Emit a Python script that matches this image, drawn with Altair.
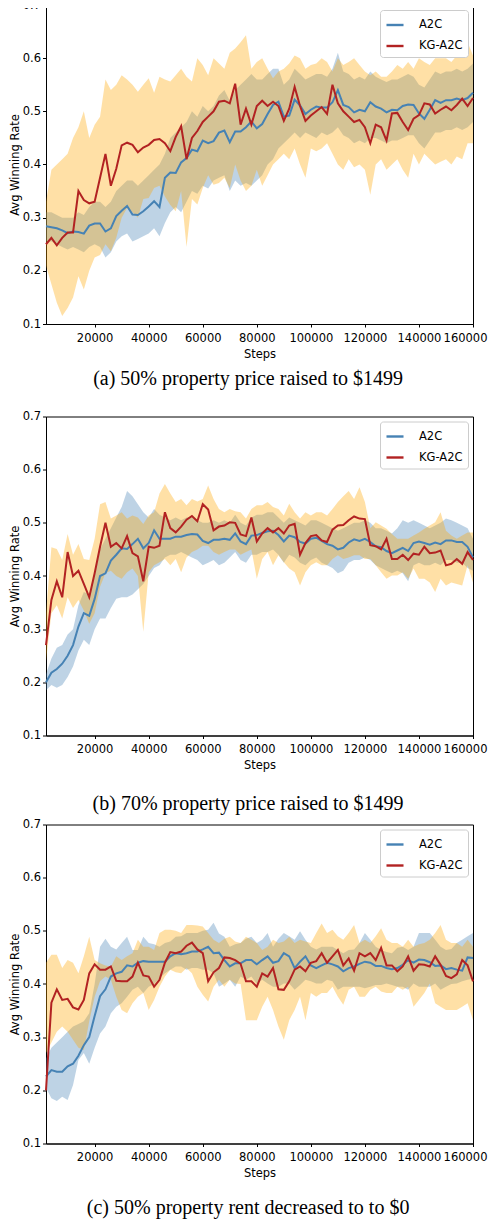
import altair as alt
import pandas as pd

steps = list(range(2000, 160001, 2000))
series_names = ["A2C", "KG-A2C"]
x_ticks = [20000, 40000, 60000, 80000, 100000, 120000, 140000, 160000]
y_ticks = [0.1, 0.2, 0.3, 0.4, 0.5, 0.6, 0.7]
captions = [
    "(a) 50% property price raised to $1499",
    "(b) 70% property price raised to $1499",
    "(c) 50% property rent decreased to to $0",
]

# ---------------- panel (a) ----------------
a_a2c = [0.284, 0.282, 0.280, 0.276, 0.271, 0.274, 0.273, 0.270, 0.285, 0.289,
         0.289, 0.274, 0.280, 0.303, 0.313, 0.322, 0.306, 0.305, 0.312, 0.321,
         0.331, 0.320, 0.375, 0.385, 0.384, 0.404, 0.412, 0.428, 0.425, 0.445,
         0.440, 0.444, 0.460, 0.464, 0.442, 0.462, 0.462, 0.470, 0.481, 0.468,
         0.476, 0.495, 0.512, 0.518, 0.490, 0.492, 0.522, 0.511, 0.495, 0.503,
         0.509, 0.507, 0.507, 0.517, 0.540, 0.512, 0.508, 0.498, 0.503, 0.500,
         0.517, 0.509, 0.505, 0.498, 0.503, 0.502, 0.510, 0.513, 0.512, 0.496,
         0.486, 0.503, 0.521, 0.516, 0.521, 0.521, 0.524, 0.521, 0.525, 0.535]
a_a2c_lo = [0.255, 0.255, 0.250, 0.245, 0.240, 0.245, 0.240, 0.235, 0.245, 0.250,
            0.245, 0.225, 0.235, 0.255, 0.265, 0.270, 0.255, 0.260, 0.265, 0.270,
            0.280, 0.265, 0.290, 0.310, 0.320, 0.310, 0.330, 0.350, 0.345, 0.360,
            0.355, 0.370, 0.375, 0.380, 0.350, 0.370, 0.360, 0.365, 0.360, 0.370,
            0.380, 0.400, 0.410, 0.430, 0.440, 0.450, 0.460, 0.450, 0.460, 0.455,
            0.450, 0.460, 0.455, 0.460, 0.470, 0.455, 0.450, 0.440, 0.445, 0.440,
            0.450, 0.450, 0.445, 0.440, 0.445, 0.445, 0.450, 0.455, 0.455, 0.440,
            0.430, 0.445, 0.460, 0.460, 0.465, 0.465, 0.470, 0.465, 0.470, 0.480]
a_a2c_hi = [0.310, 0.310, 0.305, 0.300, 0.300, 0.300, 0.310, 0.305, 0.320, 0.330,
            0.330, 0.320, 0.330, 0.350, 0.360, 0.370, 0.370, 0.360, 0.370, 0.380,
            0.390, 0.400, 0.420, 0.450, 0.460, 0.470, 0.480, 0.500, 0.490, 0.510,
            0.500, 0.510, 0.530, 0.540, 0.520, 0.540, 0.550, 0.560, 0.570, 0.560,
            0.560, 0.570, 0.580, 0.580, 0.550, 0.560, 0.580, 0.570, 0.560, 0.565,
            0.570, 0.570, 0.565, 0.580, 0.610, 0.575, 0.570, 0.560, 0.565, 0.560,
            0.575, 0.565, 0.560, 0.555, 0.560, 0.560, 0.565, 0.570, 0.565, 0.550,
            0.545, 0.560, 0.575, 0.570, 0.575, 0.575, 0.580, 0.575, 0.580, 0.590]
a_kg = [0.250, 0.262, 0.248, 0.262, 0.272, 0.272, 0.350, 0.333, 0.327, 0.330,
        0.375, 0.420, 0.360, 0.392, 0.436, 0.441, 0.437, 0.423, 0.432, 0.437,
        0.446, 0.448, 0.440, 0.425, 0.452, 0.472, 0.410, 0.450, 0.463, 0.480,
        0.490, 0.500, 0.518, 0.520, 0.515, 0.552, 0.475, 0.505, 0.475, 0.510,
        0.520, 0.510, 0.518, 0.510, 0.482, 0.505, 0.546, 0.510, 0.482, 0.492,
        0.500, 0.508, 0.495, 0.550, 0.515, 0.500, 0.490, 0.480, 0.484, 0.470,
        0.440, 0.475, 0.470, 0.445, 0.496, 0.497, 0.480, 0.465, 0.486, 0.493,
        0.515, 0.513, 0.496, 0.503, 0.509, 0.502, 0.512, 0.524, 0.510, 0.525]
a_kg_lo = [0.210, 0.175, 0.140, 0.115, 0.130, 0.150, 0.190, 0.165, 0.200, 0.225,
           0.230, 0.250, 0.237, 0.262, 0.300, 0.318, 0.310, 0.300, 0.335, 0.337,
           0.356, 0.360, 0.340, 0.324, 0.312, 0.350, 0.245, 0.335, 0.325, 0.356,
           0.380, 0.362, 0.365, 0.375, 0.356, 0.400, 0.370, 0.350, 0.360, 0.390,
           0.360, 0.380, 0.400, 0.410, 0.420, 0.410, 0.430, 0.400, 0.375, 0.430,
           0.425, 0.430, 0.440, 0.420, 0.400, 0.390, 0.410, 0.395, 0.400, 0.390,
           0.343, 0.400, 0.410, 0.390, 0.400, 0.410, 0.390, 0.375, 0.420, 0.400,
           0.420, 0.410, 0.400, 0.405, 0.410, 0.400, 0.415, 0.410, 0.440, 0.440]
a_kg_hi = [0.330, 0.390, 0.400, 0.410, 0.420, 0.450, 0.470, 0.500, 0.450, 0.475,
           0.490, 0.560, 0.540, 0.550, 0.568, 0.560, 0.550, 0.537, 0.550, 0.562,
           0.535, 0.565, 0.560, 0.556, 0.568, 0.580, 0.565, 0.556, 0.600, 0.587,
           0.568, 0.600, 0.590, 0.580, 0.610, 0.618, 0.630, 0.643, 0.580, 0.593,
           0.600, 0.580, 0.562, 0.575, 0.580, 0.590, 0.605, 0.600, 0.580, 0.587,
           0.590, 0.600, 0.593, 0.575, 0.600, 0.587, 0.593, 0.600, 0.587, 0.575,
           0.568, 0.575, 0.565, 0.565, 0.575, 0.587, 0.580, 0.593, 0.580, 0.600,
           0.593, 0.587, 0.600, 0.600, 0.600, 0.593, 0.605, 0.620, 0.630, 0.605]

# ---------------- panel (b) ----------------
b_a2c = [0.200, 0.218, 0.225, 0.235, 0.250, 0.270, 0.305, 0.330, 0.325, 0.357,
         0.400, 0.405, 0.429, 0.440, 0.452, 0.451, 0.460, 0.470, 0.452, 0.462,
         0.486, 0.470, 0.470, 0.470, 0.474, 0.474, 0.477, 0.479, 0.478, 0.466,
         0.462, 0.468, 0.468, 0.470, 0.468, 0.480, 0.465, 0.460, 0.476, 0.477,
         0.481, 0.484, 0.485, 0.477, 0.465, 0.476, 0.473, 0.464, 0.461, 0.470,
         0.472, 0.466, 0.460, 0.457, 0.450, 0.453, 0.463, 0.469, 0.466, 0.470,
         0.464, 0.456, 0.454, 0.447, 0.443, 0.448, 0.453, 0.447, 0.462, 0.465,
         0.462, 0.459, 0.463, 0.460, 0.467, 0.467, 0.464, 0.464, 0.455, 0.435]
b_a2c_lo = [0.185, 0.195, 0.190, 0.195, 0.210, 0.230, 0.260, 0.280, 0.270, 0.300,
            0.320, 0.320, 0.340, 0.357, 0.360, 0.360, 0.365, 0.375, 0.385, 0.400,
            0.415, 0.420, 0.435, 0.440, 0.440, 0.445, 0.440, 0.435, 0.430, 0.420,
            0.425, 0.430, 0.420, 0.425, 0.435, 0.445, 0.430, 0.425, 0.440, 0.440,
            0.445, 0.445, 0.450, 0.440, 0.425, 0.440, 0.435, 0.425, 0.420, 0.430,
            0.435, 0.425, 0.420, 0.415, 0.405, 0.410, 0.425, 0.430, 0.430, 0.435,
            0.430, 0.420, 0.415, 0.410, 0.405, 0.410, 0.405, 0.390, 0.420, 0.425,
            0.420, 0.420, 0.425, 0.420, 0.430, 0.430, 0.425, 0.425, 0.415, 0.410]
b_a2c_hi = [0.215, 0.245, 0.265, 0.270, 0.290, 0.300, 0.345, 0.370, 0.365, 0.400,
            0.450, 0.470, 0.490, 0.510, 0.530, 0.560, 0.550, 0.535, 0.520, 0.510,
            0.526, 0.515, 0.510, 0.505, 0.510, 0.505, 0.510, 0.510, 0.505, 0.500,
            0.500, 0.505, 0.500, 0.505, 0.500, 0.515, 0.500, 0.495, 0.510, 0.515,
            0.515, 0.520, 0.520, 0.510, 0.500, 0.510, 0.505, 0.500, 0.495, 0.505,
            0.505, 0.500, 0.495, 0.490, 0.485, 0.490, 0.495, 0.500, 0.500, 0.505,
            0.500, 0.490, 0.490, 0.485, 0.480, 0.490, 0.505, 0.500, 0.505, 0.500,
            0.495, 0.490, 0.495, 0.500, 0.508, 0.505, 0.500, 0.495, 0.490, 0.470]
b_kg = [0.270, 0.355, 0.390, 0.360, 0.445, 0.400, 0.410, 0.385, 0.360, 0.405,
        0.455, 0.500, 0.455, 0.462, 0.452, 0.475, 0.443, 0.437, 0.390, 0.455,
        0.453, 0.457, 0.520, 0.490, 0.482, 0.493, 0.506, 0.513, 0.503, 0.535,
        0.525, 0.486, 0.493, 0.495, 0.501, 0.500, 0.478, 0.475, 0.510, 0.465,
        0.480, 0.490, 0.482, 0.490, 0.480, 0.495, 0.498, 0.440, 0.462, 0.475,
        0.477, 0.467, 0.464, 0.487, 0.495, 0.496, 0.505, 0.512, 0.508, 0.507,
        0.458, 0.456, 0.450, 0.470, 0.432, 0.432, 0.440, 0.430, 0.442, 0.440,
        0.455, 0.443, 0.444, 0.448, 0.420, 0.423, 0.432, 0.423, 0.445, 0.430]
b_kg_lo = [0.240, 0.330, 0.345, 0.320, 0.360, 0.340, 0.355, 0.335, 0.310, 0.330,
           0.380, 0.405, 0.410, 0.400, 0.395, 0.407, 0.414, 0.400, 0.295, 0.407,
           0.420, 0.426, 0.432, 0.420, 0.432, 0.407, 0.435, 0.445, 0.450, 0.457,
           0.457, 0.445, 0.440, 0.445, 0.450, 0.450, 0.440, 0.445, 0.450, 0.395,
           0.432, 0.445, 0.420, 0.439, 0.426, 0.414, 0.407, 0.382, 0.407, 0.420,
           0.426, 0.420, 0.420, 0.432, 0.439, 0.432, 0.435, 0.439, 0.439, 0.432,
           0.432, 0.420, 0.407, 0.395, 0.401, 0.401, 0.407, 0.395, 0.414, 0.395,
           0.395, 0.388, 0.370, 0.395, 0.382, 0.388, 0.385, 0.382, 0.420, 0.388]
b_kg_hi = [0.330, 0.454, 0.451, 0.430, 0.479, 0.440, 0.460, 0.432, 0.430, 0.470,
           0.535, 0.539, 0.508, 0.514, 0.520, 0.508, 0.514, 0.510, 0.498, 0.514,
           0.520, 0.555, 0.573, 0.555, 0.539, 0.545, 0.533, 0.545, 0.540, 0.545,
           0.570, 0.545, 0.526, 0.520, 0.526, 0.522, 0.520, 0.508, 0.526, 0.533,
           0.533, 0.539, 0.530, 0.526, 0.514, 0.536, 0.520, 0.508, 0.520, 0.514,
           0.520, 0.520, 0.514, 0.526, 0.539, 0.550, 0.560, 0.545, 0.567, 0.539,
           0.490, 0.501, 0.495, 0.489, 0.479, 0.470, 0.470, 0.470, 0.476, 0.482,
           0.489, 0.495, 0.501, 0.520, 0.485, 0.476, 0.470, 0.476, 0.482, 0.482]

# ---------------- panel (c) ----------------
c_a2c = [0.226, 0.238, 0.235, 0.235, 0.245, 0.250, 0.265, 0.285, 0.300, 0.340,
         0.377, 0.390, 0.414, 0.420, 0.423, 0.435, 0.433, 0.440, 0.443, 0.442,
         0.442, 0.442, 0.442, 0.452, 0.458, 0.456, 0.458, 0.461, 0.461, 0.465,
         0.470, 0.458, 0.459, 0.445, 0.433, 0.439, 0.439, 0.445, 0.445, 0.437,
         0.445, 0.452, 0.440, 0.443, 0.458, 0.452, 0.430, 0.442, 0.452, 0.435,
         0.430, 0.435, 0.440, 0.437, 0.433, 0.424, 0.430, 0.433, 0.438, 0.442,
         0.440, 0.434, 0.434, 0.430, 0.428, 0.430, 0.436, 0.445, 0.440, 0.446,
         0.445, 0.441, 0.434, 0.435, 0.428, 0.430, 0.427, 0.425, 0.450, 0.449]
c_a2c_lo = [0.205, 0.185, 0.180, 0.188, 0.182, 0.210, 0.257, 0.270, 0.250, 0.280,
            0.307, 0.320, 0.345, 0.357, 0.364, 0.376, 0.389, 0.395, 0.383, 0.395,
            0.400, 0.411, 0.420, 0.427, 0.433, 0.433, 0.427, 0.430, 0.430, 0.427,
            0.427, 0.420, 0.395, 0.401, 0.408, 0.395, 0.414, 0.408, 0.414, 0.400,
            0.408, 0.401, 0.395, 0.395, 0.401, 0.401, 0.389, 0.398, 0.408, 0.405,
            0.401, 0.401, 0.408, 0.405, 0.389, 0.395, 0.395, 0.395, 0.395, 0.392,
            0.395, 0.398, 0.398, 0.401, 0.398, 0.395, 0.395, 0.389, 0.401, 0.395,
            0.395, 0.395, 0.401, 0.389, 0.395, 0.400, 0.401, 0.405, 0.408, 0.410]
c_a2c_hi = [0.260, 0.280, 0.290, 0.300, 0.310, 0.320, 0.325, 0.330, 0.345, 0.400,
            0.470, 0.485, 0.470, 0.465, 0.477, 0.489, 0.464, 0.464, 0.489, 0.477,
            0.475, 0.470, 0.477, 0.480, 0.489, 0.490, 0.496, 0.496, 0.496, 0.500,
            0.502, 0.515, 0.495, 0.489, 0.470, 0.475, 0.477, 0.485, 0.489, 0.477,
            0.483, 0.496, 0.470, 0.485, 0.496, 0.490, 0.483, 0.499, 0.483, 0.470,
            0.465, 0.470, 0.470, 0.470, 0.464, 0.458, 0.464, 0.465, 0.477, 0.496,
            0.483, 0.470, 0.464, 0.460, 0.458, 0.468, 0.470, 0.464, 0.470, 0.496,
            0.496, 0.496, 0.483, 0.470, 0.464, 0.466, 0.477, 0.483, 0.490, 0.496]
c_kg = [0.200, 0.365, 0.390, 0.370, 0.372, 0.356, 0.352, 0.370, 0.420, 0.437,
        0.427, 0.427, 0.433, 0.406, 0.405, 0.405, 0.414, 0.440, 0.416, 0.414,
        0.395, 0.408, 0.440, 0.460, 0.458, 0.461, 0.472, 0.478, 0.465, 0.458,
        0.405, 0.422, 0.430, 0.450, 0.449, 0.445, 0.438, 0.405, 0.405, 0.395,
        0.420, 0.414, 0.430, 0.390, 0.389, 0.405, 0.427, 0.433, 0.424, 0.440,
        0.443, 0.458, 0.440, 0.452, 0.464, 0.435, 0.448, 0.425, 0.458, 0.452,
        0.458, 0.445, 0.468, 0.435, 0.435, 0.424, 0.433, 0.452, 0.425, 0.437,
        0.436, 0.433, 0.452, 0.436, 0.415, 0.411, 0.418, 0.445, 0.435, 0.405]
c_kg_lo = [0.270, 0.290, 0.310, 0.320, 0.310, 0.295, 0.280, 0.276, 0.330, 0.376,
           0.405, 0.414, 0.408, 0.376, 0.351, 0.345, 0.364, 0.376, 0.383, 0.351,
           0.370, 0.395, 0.414, 0.427, 0.422, 0.420, 0.430, 0.420, 0.395, 0.380,
           0.367, 0.395, 0.408, 0.395, 0.408, 0.401, 0.400, 0.332, 0.332, 0.332,
           0.357, 0.376, 0.351, 0.320, 0.295, 0.332, 0.351, 0.376, 0.332, 0.383,
           0.376, 0.383, 0.383, 0.395, 0.376, 0.361, 0.389, 0.395, 0.376, 0.376,
           0.389, 0.395, 0.386, 0.383, 0.383, 0.395, 0.389, 0.395, 0.357, 0.370,
           0.383, 0.401, 0.364, 0.357, 0.351, 0.351, 0.351, 0.357, 0.364, 0.332]
c_kg_hi = [0.440, 0.455, 0.455, 0.430, 0.445, 0.440, 0.420, 0.452, 0.489, 0.445,
           0.439, 0.435, 0.433, 0.452, 0.445, 0.452, 0.458, 0.483, 0.470, 0.470,
           0.464, 0.496, 0.502, 0.502, 0.500, 0.496, 0.511, 0.511, 0.510, 0.508,
           0.496, 0.483, 0.477, 0.485, 0.489, 0.480, 0.477, 0.489, 0.483, 0.477,
           0.464, 0.470, 0.483, 0.477, 0.480, 0.489, 0.477, 0.483, 0.480, 0.477,
           0.496, 0.514, 0.496, 0.502, 0.490, 0.483, 0.496, 0.511, 0.477, 0.483,
           0.477, 0.490, 0.505, 0.483, 0.477, 0.477, 0.470, 0.483, 0.470, 0.475,
           0.477, 0.483, 0.496, 0.511, 0.483, 0.477, 0.477, 0.470, 0.483, 0.470]

BLUE = "#4682b4"
RED = "#b22222"
ORANGE = "#ffa500"
FONT = "DejaVu Sans"


def panel_frame(a2c, a2c_lo, a2c_hi, kg, kg_lo, kg_hi):
    rows = []
    for i, s in enumerate(steps):
        rows.append({"step": s, "series": "A2C", "band": "A2C band",
                     "mean": a2c[i], "lo": a2c_lo[i], "hi": a2c_hi[i]})
    for i, s in enumerate(steps):
        rows.append({"step": s, "series": "KG-A2C", "band": "KG-A2C band",
                     "mean": kg[i], "lo": kg_lo[i], "hi": kg_hi[i]})
    return pd.DataFrame(rows)


def make_panel(df, caption, cap_offset):
    xenc = alt.X(
        "step:Q",
        scale=alt.Scale(domain=[2000, 160000], nice=False, zero=False),
        axis=alt.Axis(values=x_ticks, format="d", title="Steps", grid=False,
                      labelOverlap=False, labelFlush=True, labelFlushOffset=14,
                      labelPadding=5, titlePadding=4.5, tickSize=3),
    )
    yaxis = alt.Axis(values=y_ticks, format=".1f", title="Avg Winning Rate", grid=False,
                     labelOverlap=False, labelPadding=2, titlePadding=2, tickSize=3.5)
    yscale = alt.Scale(domain=[0.1, 0.7], nice=False, zero=False)
    band = alt.Chart(df).mark_area(fillOpacity=0.35, strokeWidth=0).encode(
        x=xenc,
        y=alt.Y("lo:Q", scale=yscale, axis=yaxis),
        y2="hi:Q",
        fill=alt.Fill("band:N",
                      scale=alt.Scale(domain=["A2C band", "KG-A2C band"], range=[BLUE, ORANGE]),
                      legend=None),
    )
    line = alt.Chart(df).mark_line(strokeWidth=2).encode(
        x=xenc,
        y=alt.Y("mean:Q", scale=yscale, axis=yaxis),
        stroke=alt.Stroke(
            "series:N",
            scale=alt.Scale(domain=series_names, range=[BLUE, RED]),
            legend=alt.Legend(
                title=None, orient="top-right", offset=5, fillColor="white",
                strokeColor="#cccccc", cornerRadius=3, padding=5,
                symbolType="stroke", symbolStrokeWidth=2.4, symbolSize=290,
                labelFontSize=11.5, labelFont=FONT, labelColor="black",
                labelOffset=14, rowPadding=5,
            ),
        ),
    )
    return alt.layer(band, line).properties(
        width=427, height=319,
        title=alt.TitleParams(
            text=caption, orient="bottom", anchor="middle", frame="bounds",
            font="Liberation Serif", fontSize=20, fontWeight="normal",
            color="black", offset=cap_offset,
        ),
    )


pa = make_panel(panel_frame(a_a2c, a_a2c_lo, a_a2c_hi, a_kg, a_kg_lo, a_kg_hi), captions[0], 9.5)
pb = make_panel(panel_frame(b_a2c, b_a2c_lo, b_a2c_hi, b_kg, b_kg_lo, b_kg_hi), captions[1], 22.5)
pc = make_panel(panel_frame(c_a2c, c_a2c_lo, c_a2c_hi, c_kg, c_kg_lo, c_kg_hi), captions[2], 19)

top_two = (
    alt.vconcat(pa, pb, spacing=19.5)
    .resolve_scale(stroke="independent", fill="independent")
    .resolve_legend(stroke="independent", fill="independent")
)

chart = (
    alt.vconcat(top_two, pc, spacing=3.5)
    .resolve_scale(stroke="independent", fill="independent")
    .resolve_legend(stroke="independent", fill="independent")
    .properties(padding={"top": -10, "left": 0, "right": 0, "bottom": 0})
    .configure_view(stroke="black", strokeWidth=1)
    .configure_axis(
        domainColor="black", tickColor="black", labelColor="black", titleColor="black",
        labelFont=FONT, titleFont=FONT, labelFontSize=11.5,
        titleFontSize=11.5, titleFontWeight="normal",
    )
)

chart.save("out.html", embed_options={"renderer": "svg", "actions": False})
